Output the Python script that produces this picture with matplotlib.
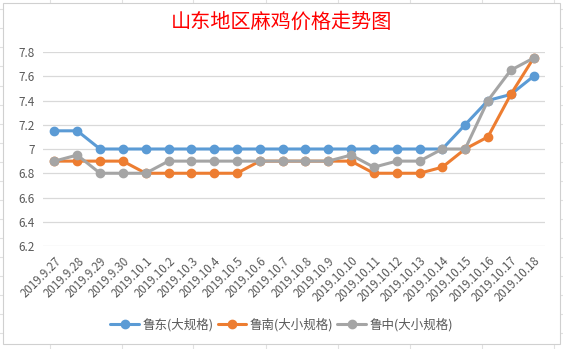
import matplotlib
matplotlib.use('Agg')
import matplotlib.pyplot as plt
import matplotlib.lines as mlines
import matplotlib.patches as mpatches

plt.rcParams['font.family'] = ['Noto Sans CJK SC', 'DejaVu Sans']

dates = ['2019.9.27', '2019.9.28', '2019.9.29', '2019.9.30', '2019.10.1', '2019.10.2',
         '2019.10.3', '2019.10.4', '2019.10.5', '2019.10.6', '2019.10.7', '2019.10.8',
         '2019.10.9', '2019.10.10', '2019.10.11', '2019.10.12', '2019.10.13', '2019.10.14',
         '2019.10.15', '2019.10.16', '2019.10.17', '2019.10.18']
ludong = [7.15, 7.15, 7.0, 7.0, 7.0, 7.0, 7.0, 7.0, 7.0, 7.0, 7.0, 7.0,
          7.0, 7.0, 7.0, 7.0, 7.0, 7.0, 7.2, 7.4, 7.45, 7.6]
lunan = [6.9, 6.9, 6.9, 6.9, 6.8, 6.8, 6.8, 6.8, 6.8, 6.9, 6.9, 6.9,
         6.9, 6.9, 6.8, 6.8, 6.8, 6.85, 7.0, 7.1, 7.45, 7.75]
luzhong = [6.9, 6.95, 6.8, 6.8, 6.8, 6.9, 6.9, 6.9, 6.9, 6.9, 6.9, 6.9,
           6.9, 6.95, 6.85, 6.9, 6.9, 7.0, 7.0, 7.4, 7.65, 7.75]
names = ['鲁东(大规格)', '鲁南(大小规格)', '鲁中(大小规格)']
colors = ['#5B9BD5', '#ED7D31', '#A5A5A5']
yticks = [6.2, 6.4, 6.6, 6.8, 7, 7.2, 7.4, 7.6, 7.8]

W, H = 563, 349
fig = plt.figure(figsize=(W / 100, H / 100), dpi=100)
fig.patch.set_facecolor('white')

# spreadsheet cells peeking out around the chart
for xc in [50, 122, 193, 266, 338, 410, 482, 554]:
    fig.add_artist(mlines.Line2D([xc / W, xc / W], [0, 1], color='#E1E1E1', lw=0.8, zorder=-2))
for yc in [9, 28, 47, 66, 86, 105, 124, 143, 162, 181, 200, 219, 238, 257, 276, 295, 314, 333]:
    fig.add_artist(mlines.Line2D([0, 1], [1 - yc / H, 1 - yc / H], color='#E1E1E1', lw=0.8, zorder=-2))
fig.add_artist(mpatches.Rectangle((3 / W, 1 - 344 / H), 557 / W, 341 / H, facecolor='white',
                                  edgecolor='#D0D0D0', lw=0.8, zorder=-1))

ax = fig.add_axes([43 / W, 1 - 246 / H, 502 / W, 194 / H])
ax.set_zorder(2)
ax.patch.set_alpha(0)
x = list(range(len(dates)))
for vals, name, c in zip([ludong, lunan, luzhong], names, colors):
    ax.plot(x, vals, color=c, lw=2.2, marker='o', ms=6, label=name, solid_capstyle='round')

ax.set_xlim(-0.5, len(dates) - 0.5)
ax.set_ylim(6.2, 7.8)
ax.set_yticks(yticks)
ax.set_yticklabels([str(v) for v in yticks], color='#595959', fontsize=8.5)
ax.set_xticks(x)
ax.set_xticklabels(dates, rotation=45, ha='right', va='top', rotation_mode='anchor',
                   color='#595959', fontsize=8.3)
ax.tick_params(length=0, pad=6)
ax.tick_params(axis='x', pad=6)
ax.yaxis.grid(True, color='#D9D9D9', lw=0.9)
ax.set_axisbelow(True)
for s in ax.spines.values():
    s.set_visible(False)

fig.text(0.5, 1 - 22 / H, '山东地区麻鸡价格走势图', color='#FF0000', fontsize=14.5,
         fontweight='medium', ha='center', va='center', zorder=3)

leg = fig.legend(loc='center', bbox_to_anchor=(0.5, 1 - 325 / H), ncol=3, frameon=False,
                 fontsize=9, handlelength=2.3, columnspacing=0.35, handletextpad=0.25)
leg.set_zorder(3)
for t in leg.get_texts():
    t.set_color('#595959')

fig.savefig('out.png', dpi=100)
